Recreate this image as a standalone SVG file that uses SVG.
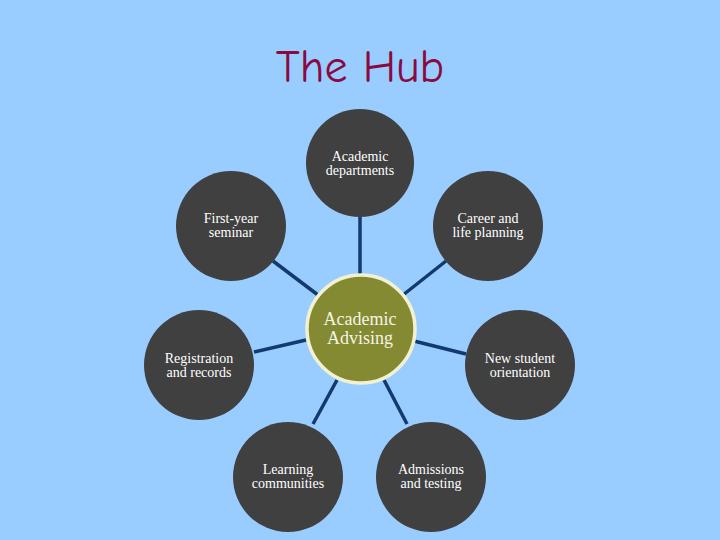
<svg xmlns="http://www.w3.org/2000/svg" width="720" height="540" viewBox="0 0 720 540">
<style>
.node{fill:#404040}
.lbl{font-family:"Liberation Serif","DejaVu Serif",serif;font-size:14px;fill:#ffffff;text-anchor:middle}
.conn line{stroke:#133A6E;stroke-width:3.5}
</style>
<rect width="720" height="540" fill="#99CCFF"/>
<text x="360" y="82" font-family="'Comic Neue','DejaVu Sans','Liberation Sans',sans-serif" font-size="46" fill="#8A0A40" text-anchor="middle">The Hub</text>
<g class="conn">
<line x1="360" y1="217" x2="360" y2="274"/>
<line x1="273" y1="261" x2="318" y2="295"/>
<line x1="446" y1="261" x2="403" y2="295"/>
<line x1="254" y1="352" x2="306" y2="340"/>
<line x1="466" y1="354" x2="414" y2="341"/>
<line x1="313" y1="424" x2="337" y2="380"/>
<line x1="407" y1="424" x2="384" y2="380"/>
</g>
<g id="academic-advising">
<circle cx="361" cy="329" r="54" fill="#848A32" stroke="#F2F2D2" stroke-width="3.5"/>
<text x="360" y="325" font-family="'Liberation Serif','DejaVu Serif',serif" font-size="18" fill="#F4F4E6" text-anchor="middle">Academic</text>
<text x="360" y="344" font-family="'Liberation Serif','DejaVu Serif',serif" font-size="18" fill="#F4F4E6" text-anchor="middle">Advising</text>
</g>
<g id="academic-departments">
<circle class="node" cx="360" cy="163" r="54"/>
<text class="lbl" x="360" y="161">Academic</text>
<text class="lbl" x="360" y="175">departments</text>
</g>
<g id="first-year-seminar">
<circle class="node" cx="231" cy="226" r="55"/>
<text class="lbl" x="231" y="223">First-year</text>
<text class="lbl" x="231" y="237">seminar</text>
</g>
<g id="career-life-planning">
<circle class="node" cx="488" cy="226" r="55"/>
<text class="lbl" x="488" y="223">Career and</text>
<text class="lbl" x="488" y="237">life planning</text>
</g>
<g id="registration-records">
<circle class="node" cx="199" cy="365" r="55"/>
<text class="lbl" x="199" y="363">Registration</text>
<text class="lbl" x="199" y="377">and records</text>
</g>
<g id="new-student-orientation">
<circle class="node" cx="520" cy="365" r="55"/>
<text class="lbl" x="520" y="363">New student</text>
<text class="lbl" x="520" y="377">orientation</text>
</g>
<g id="learning-communities">
<circle class="node" cx="288" cy="477" r="55"/>
<text class="lbl" x="288" y="474">Learning</text>
<text class="lbl" x="288" y="488">communities</text>
</g>
<g id="admissions-testing">
<circle class="node" cx="431" cy="477" r="55"/>
<text class="lbl" x="431" y="474">Admissions</text>
<text class="lbl" x="431" y="488">and testing</text>
</g>
</svg>
